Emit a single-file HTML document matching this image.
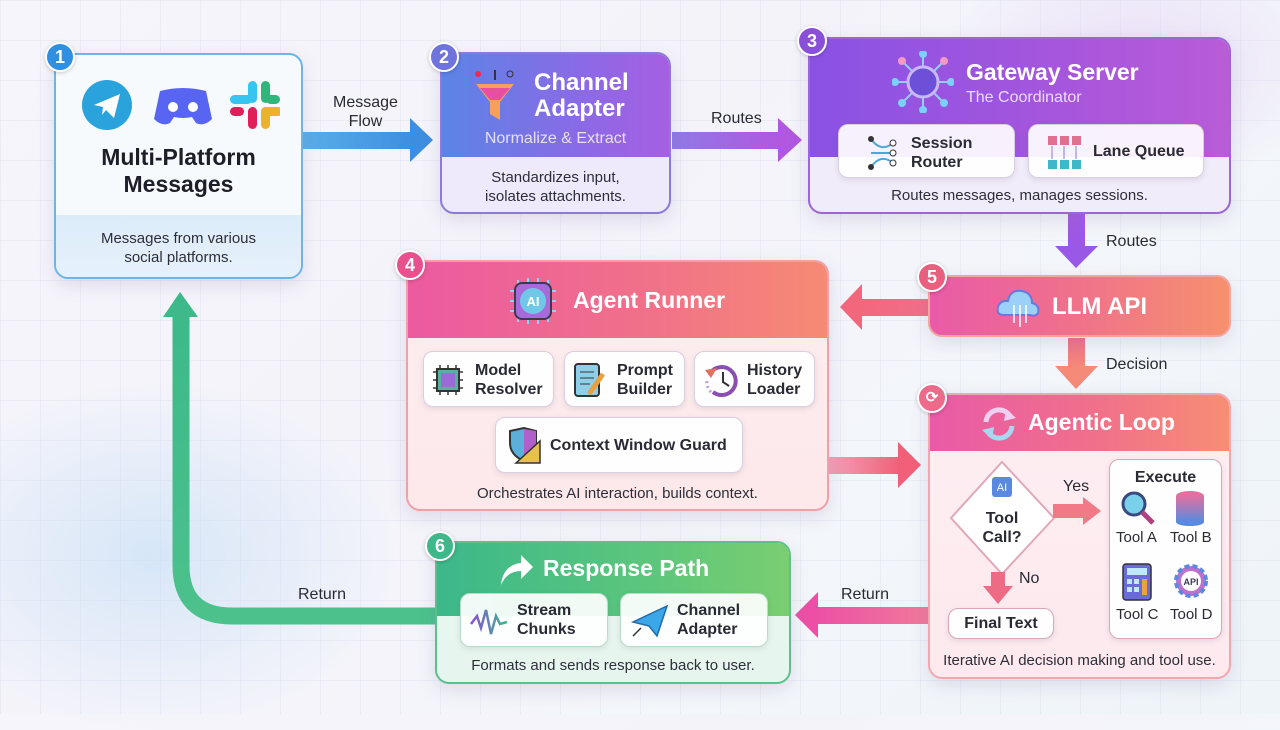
<!DOCTYPE html>
<html><head><meta charset="utf-8">
<style>
*{box-sizing:border-box;margin:0;padding:0}
body{width:1280px;height:714px;overflow:hidden;font-family:"Liberation Sans",sans-serif;position:relative;
background:linear-gradient(135deg,#f6f5fb 0%,#f4f3fa 40%,#f3f6fa 70%,#eef4f8 100%);}
.grid{position:absolute;inset:0;background-image:linear-gradient(rgba(150,160,200,.10) 1px,transparent 1px),linear-gradient(90deg,rgba(150,160,200,.10) 1px,transparent 1px);background-size:40px 40px;}
.glowL{position:absolute;left:-100px;top:380px;width:500px;height:350px;background:radial-gradient(ellipse,rgba(190,220,245,.55),transparent 70%)}
.glowR{position:absolute;right:-60px;top:-60px;width:400px;height:250px;background:radial-gradient(ellipse,rgba(225,200,245,.5),transparent 70%)}
.card{position:absolute;border-radius:14px;border:2px solid;overflow:hidden;box-shadow:0 6px 18px rgba(120,100,160,.18)}
.hd{position:absolute;left:0;right:0;top:0}
.badge{position:absolute;width:30px;height:30px;border-radius:50%;border:2px solid #fff;color:#fff;font-weight:bold;font-size:18px;text-align:center;line-height:26px;z-index:5;box-shadow:0 1px 4px rgba(0,0,0,.2)}
.t{position:absolute;white-space:nowrap}
.sub{position:absolute;background:rgba(255,255,255,.92);border:1.5px solid #d8cfe0;border-radius:10px;box-shadow:0 2px 6px rgba(100,80,120,.15)}
.sub .l{position:absolute;font-size:16px;font-weight:bold;color:#2a2a35;line-height:19px}
.cap{position:absolute;left:0;right:0;text-align:center;font-size:15px;color:#2e2e38}
.lab{position:absolute;font-size:16px;color:#2a2a33;white-space:nowrap;text-align:center;line-height:19px;z-index:6}
</style></head><body>
<div class="grid"></div><div class="glowL"></div><div class="glowR"></div>

<svg width="1280" height="714" style="position:absolute;left:0;top:0">
<defs>
<linearGradient id="ga" x1="0" x2="1"><stop offset="0" stop-color="#5aaee8"/><stop offset="1" stop-color="#3d8ee0"/></linearGradient>
<linearGradient id="gb" x1="0" x2="1"><stop offset="0" stop-color="#8f7ae6"/><stop offset="1" stop-color="#b157e0"/></linearGradient>
<linearGradient id="gc" x1="0" x2="0" y1="0" y2="1"><stop offset="0" stop-color="#a35ae0"/><stop offset="1" stop-color="#9a58e6"/></linearGradient>
<linearGradient id="gd" x1="0" x2="1"><stop offset="0" stop-color="#f2677c"/><stop offset="1" stop-color="#f0708a"/></linearGradient>
<linearGradient id="ge" x1="0" x2="1"><stop offset="0" stop-color="#f2a0b8"/><stop offset="1" stop-color="#f25f78"/></linearGradient>
<linearGradient id="gf" x1="0" x2="0" y1="0" y2="1"><stop offset="0" stop-color="#ee7088"/><stop offset="1" stop-color="#f58a78"/></linearGradient>
<linearGradient id="gg" x1="0" x2="1"><stop offset="0" stop-color="#ec4fa5"/><stop offset="1" stop-color="#f07a9a"/></linearGradient>
<linearGradient id="gh" x1="0" x2="0" y1="1" y2="0"><stop offset="0" stop-color="#4cc18c"/><stop offset="1" stop-color="#3db98a"/></linearGradient>
</defs>
<rect x="303" y="132" width="110" height="17" fill="url(#ga)"/><polygon points="410,118 433,140 410,162" fill="#3d8ee0"/>
<rect x="672" y="132" width="108" height="17" fill="url(#gb)"/><polygon points="778,118 802,140 778,162" fill="#b157e0"/>
<rect x="1068" y="214" width="17" height="34" fill="url(#gc)"/><polygon points="1055,246 1098,246 1076,268" fill="#9a58e6"/>
<rect x="860" y="299" width="70" height="17" fill="url(#gd)"/><polygon points="862,284 840,307 862,330" fill="#f2677c"/>
<rect x="1068" y="338" width="17" height="30" fill="url(#gf)"/><polygon points="1055,366 1098,366 1076,389" fill="#f58a78"/>
<rect x="829" y="457" width="72" height="17" fill="url(#ge)"/><polygon points="898,442 921,465 898,488" fill="#f25f78"/>
<rect x="815" y="607" width="113" height="17" fill="url(#gg)"/><polygon points="818,592 795,615 818,638" fill="#ec4fa5"/>
<path d="M436 616 L232 616 Q181 616 181 565 L181 314" stroke="url(#gh)" stroke-width="17" fill="none"/>
<polygon points="163,317 180,292 198,317" fill="#3db98a"/>
</svg>

<div class="lab" style="left:333px;top:93px">Message<br>Flow</div>
<div class="lab" style="left:711px;top:109px">Routes</div>
<div class="lab" style="left:1106px;top:232px">Routes</div>
<div class="lab" style="left:1106px;top:355px">Decision</div>
<div class="lab" style="left:841px;top:585px">Return</div>
<div class="lab" style="left:298px;top:585px">Return</div>
<div class="lab" style="left:1063px;top:477px">Yes</div>
<div class="lab" style="left:1019px;top:569px">No</div>

<!-- Box 1 -->
<div class="card" style="left:54px;top:53px;width:249px;height:226px;border-color:#6ab6e6;background:#f7fafd">
 <div style="position:absolute;left:0;right:0;top:160px;bottom:0;background:linear-gradient(#dcecf9,#e6f1fb)"></div>
 <svg class="t" style="left:24px;top:22px" width="200" height="56">
  <circle cx="27" cy="28" r="25" fill="#2aa3dc"/><polygon points="14,28 40,17 34,41 26,33 22,38 23,30" fill="#fff"/>
  <path d="M80 14 Q103 8 126 14 L132 42 Q124 50 116 46 L112 40 Q103 42 94 40 L90 46 Q82 50 74 42 Z" fill="#5865f2"/><circle cx="93" cy="30" r="5" fill="#fff"/><circle cx="113" cy="30" r="5" fill="#fff"/>
  <rect x="168" y="4" width="9" height="22" rx="4.5" fill="#36c5f0"/><rect x="150" y="18" width="22" height="9" rx="4.5" fill="#36c5f0"/>
  <rect x="181" y="4" width="9" height="22" rx="4.5" fill="#2eb67d"/><rect x="186" y="18" width="14" height="9" rx="4.5" fill="#2eb67d"/>
  <rect x="168" y="30" width="9" height="22" rx="4.5" fill="#e01e5a"/><rect x="150" y="30" width="14" height="9" rx="4.5" fill="#e01e5a"/>
  <rect x="181" y="30" width="9" height="22" rx="4.5" fill="#ecb22e"/><rect x="181" y="30" width="22" height="9" rx="4.5" fill="#ecb22e"/>
 </svg>
 <div class="cap" style="top:89px;font-size:23px;font-weight:bold;color:#1e1e28;line-height:27px">Multi-Platform<br>Messages</div>
 <div class="cap" style="top:174px;line-height:19px">Messages from various<br>social platforms.</div>
</div>
<div class="badge" style="left:45px;top:42px;background:#2f8fe0">1</div>

<!-- Box 2 -->
<div class="card" style="left:440px;top:52px;width:231px;height:162px;border-color:#8c7ad8;background:#eeeafb">
 <div class="hd" style="height:103px;background:linear-gradient(90deg,#5b84e6,#8a6ae6 60%,#a65fe2)"></div>
 <svg class="t" style="left:30px;top:14px" width="46" height="56"><polygon points="4,16 42,16 28,34 28,52 18,46 18,34" fill="#f7a05a"/><polygon points="8,20 38,20 28,32 18,32" fill="#e84fa0"/><line x1="23" y1="2" x2="23" y2="12" stroke="#333" stroke-width="2"/><circle cx="6" cy="6" r="3" fill="#f25"/><circle cx="38" cy="6" r="3" stroke="#333" fill="none"/></svg>
 <div class="t" style="left:92px;top:16px;font-size:24px;font-weight:bold;color:#fff;line-height:26px">Channel<br>Adapter</div>
 <div class="cap" style="top:76px;color:#e6e0ff;font-size:16px">Normalize &amp; Extract</div>
 <div class="cap" style="top:114px;line-height:19px">Standardizes input,<br>isolates attachments.</div>
</div>
<div class="badge" style="left:429px;top:42px;background:#6f73dc">2</div>

<!-- Box 3 -->
<div class="card" style="left:808px;top:37px;width:423px;height:177px;border-color:#9a66d8;background:#f1ecf9">
 <div class="hd" style="height:118px;background:linear-gradient(90deg,#8a52e4,#a656dc 60%,#b95cd8)"></div>
 <svg class="t" style="left:82px;top:12px" width="62" height="62"><g stroke="#8fd0f5" stroke-width="2"><line x1="31" y1="31" x2="31" y2="3"/><line x1="31" y1="31" x2="31" y2="59"/><line x1="31" y1="31" x2="3" y2="31"/><line x1="31" y1="31" x2="59" y2="31"/><line x1="31" y1="31" x2="10" y2="10"/><line x1="31" y1="31" x2="52" y2="10"/><line x1="31" y1="31" x2="10" y2="52"/><line x1="31" y1="31" x2="52" y2="52"/></g><circle cx="31" cy="31" r="15" fill="#6d4fd8" stroke="#c8b8ff" stroke-width="3"/><g fill="#7cd0ff"><circle cx="31" cy="3" r="4"/><circle cx="31" cy="59" r="4"/><circle cx="3" cy="31" r="4"/><circle cx="59" cy="31" r="4"/><circle cx="10" cy="10" r="4" fill="#f59ac0"/><circle cx="52" cy="10" r="4" fill="#f59ac0"/><circle cx="10" cy="52" r="4"/><circle cx="52" cy="52" r="4"/></g></svg>
 <div class="t" style="left:156px;top:20px;font-size:23px;font-weight:bold;color:#fff">Gateway Server</div>
 <div class="t" style="left:156px;top:50px;font-size:16px;color:#eadcff">The Coordinator</div>
 <div class="sub" style="left:28px;top:85px;width:177px;height:54px">
  <svg class="t" style="left:28px;top:10px" width="30" height="36"><g stroke="#4aa8d8" stroke-width="2" fill="none"><path d="M4 4 Q14 18 26 8"/><path d="M4 18 L26 18"/><path d="M4 32 Q14 18 26 28"/></g><circle cx="4" cy="4" r="3" fill="#333"/><circle cx="4" cy="32" r="3" fill="#333"/><circle cx="26" cy="8" r="3" fill="#fff" stroke="#333"/><circle cx="26" cy="18" r="3" fill="#fff" stroke="#333"/><circle cx="26" cy="28" r="3" fill="#fff" stroke="#333"/></svg>
  <div class="l" style="left:72px;top:9px">Session<br>Router</div></div>
 <div class="sub" style="left:218px;top:85px;width:176px;height:54px">
  <svg class="t" style="left:18px;top:10px" width="36" height="36"><g fill="#e07090"><rect x="1" y="1" width="9" height="9"/><rect x="13" y="1" width="9" height="9"/><rect x="25" y="1" width="9" height="9"/></g><g fill="#3cb8c8"><rect x="1" y="25" width="9" height="9"/><rect x="13" y="25" width="9" height="9"/><rect x="25" y="25" width="9" height="9"/></g><g stroke="#8a7ad8"><line x1="5" y1="11" x2="5" y2="24"/><line x1="17" y1="11" x2="17" y2="24"/><line x1="29" y1="11" x2="29" y2="24"/></g></svg>
  <div class="l" style="left:64px;top:17px">Lane Queue</div></div>
 <div class="cap" style="top:148px">Routes messages, manages sessions.</div>
</div>
<div class="badge" style="left:797px;top:26px;background:#8a4fd8">3</div>

<!-- Box 5 -->
<div class="card" style="left:928px;top:275px;width:303px;height:62px;border-color:#f2a6a0;background:linear-gradient(90deg,#e95aa8,#f0728a 50%,#f6906e)">
 <svg class="t" style="left:64px;top:8px" width="46" height="46"><path d="M10 30 Q2 30 4 22 Q6 15 14 16 Q16 4 28 6 Q38 8 38 18 Q46 20 44 28 Q42 32 36 30 Z" fill="#9bd0f8" stroke="#6a78e0" stroke-width="2"/><g stroke="#fff" stroke-width="1.5"><line x1="20" y1="20" x2="20" y2="38"/><line x1="26" y1="20" x2="26" y2="42"/><line x1="32" y1="20" x2="32" y2="38"/></g></svg>
 <div class="t" style="left:122px;top:16px;font-size:24px;font-weight:bold;color:#fff">LLM API</div>
</div>
<div class="badge" style="left:917px;top:262px;background:#e8607e">5</div>

<!-- Box 4 -->
<div class="card" style="left:406px;top:260px;width:423px;height:251px;border-color:#f0a0a8;background:linear-gradient(180deg,#fdeef0,#fde8ea)">
 <div class="hd" style="height:76px;background:linear-gradient(90deg,#ec5aa0,#f0708a 55%,#f68a74)"></div>
 <svg class="t" style="left:100px;top:14px" width="50" height="50"><g stroke="#8fd0f5" stroke-width="2"><line x1="10" y1="4" x2="10" y2="46"/><line x1="20" y1="2" x2="20" y2="48"/><line x1="30" y1="2" x2="30" y2="48"/><line x1="40" y1="4" x2="40" y2="46"/><line x1="2" y1="15" x2="48" y2="15"/><line x1="2" y1="25" x2="48" y2="25"/><line x1="2" y1="35" x2="48" y2="35"/></g><rect x="7" y="7" width="36" height="36" rx="7" fill="#a86ad8" stroke="#3a3a50" stroke-width="2"/><circle cx="25" cy="25" r="13" fill="#6fc8e8"/><text x="25" y="30" font-size="13" font-family="Liberation Sans" fill="#fff" text-anchor="middle" font-weight="bold">AI</text></svg>
 <div class="t" style="left:165px;top:25px;font-size:23px;font-weight:bold;color:#fff">Agent Runner</div>
 <div class="sub" style="left:15px;top:89px;width:131px;height:56px"><svg class="t" style="left:8px;top:12px" width="32" height="32"><g stroke="#333" stroke-width="1.5"><line x1="8" y1="1" x2="8" y2="31"/><line x1="16" y1="1" x2="16" y2="31"/><line x1="24" y1="1" x2="24" y2="31"/><line x1="1" y1="8" x2="31" y2="8"/><line x1="1" y1="16" x2="31" y2="16"/><line x1="1" y1="24" x2="31" y2="24"/></g><rect x="5" y="5" width="22" height="22" fill="#5ab0a0" stroke="#333" stroke-width="2"/><rect x="9" y="9" width="14" height="14" fill="#9a6ad8"/></svg><div class="l" style="left:51px;top:9px">Model<br>Resolver</div></div>
 <div class="sub" style="left:156px;top:89px;width:121px;height:56px"><svg class="t" style="left:8px;top:10px" width="34" height="36"><rect x="2" y="2" width="24" height="32" rx="3" fill="#8fd0e8" stroke="#333" stroke-width="2"/><g stroke="#333"><line x1="7" y1="10" x2="21" y2="10"/><line x1="7" y1="16" x2="21" y2="16"/><line x1="7" y1="22" x2="17" y2="22"/></g><line x1="30" y1="12" x2="16" y2="32" stroke="#e8a040" stroke-width="5"/></svg><div class="l" style="left:52px;top:9px">Prompt<br>Builder</div></div>
 <div class="sub" style="left:286px;top:89px;width:121px;height:56px"><svg class="t" style="left:8px;top:10px" width="36" height="36"><path d="M8 10 A14 14 0 1 1 10 30" stroke="#8a4fb0" stroke-width="4" fill="none"/><path d="M8 30 A14 14 0 0 1 4 18" stroke="#b8a0e0" stroke-width="3" stroke-dasharray="2 3" fill="none"/><polygon points="2,8 14,6 8,16" fill="#e07060"/><path d="M20 10 L20 20 L26 24" stroke="#333" stroke-width="2" fill="none"/></svg><div class="l" style="left:52px;top:9px">History<br>Loader</div></div>
 <div class="sub" style="left:87px;top:155px;width:248px;height:56px"><svg class="t" style="left:10px;top:9px" width="36" height="38"><path d="M4 4 L18 1 L30 4 L30 16 Q30 28 18 34 Q4 28 4 16 Z" fill="#5ab0d8" stroke="#333" stroke-width="2"/><path d="M18 2 L30 4 L30 16 Q30 28 18 34 Z" fill="#b060c8"/><polygon points="34,14 34,36 10,36" fill="#e8c050" stroke="#333" stroke-width="1.5"/></svg><div class="l" style="left:54px;top:18px">Context Window Guard</div></div>
 <div class="cap" style="top:223px">Orchestrates AI interaction, builds context.</div>
</div>
<div class="badge" style="left:395px;top:250px;background:#e8508e">4</div>

<!-- Agentic Loop -->
<div class="card" style="left:928px;top:393px;width:303px;height:286px;border-color:#f2a6b0;background:linear-gradient(180deg,#fdeef2,#fde9ee)">
 <div class="hd" style="height:56px;background:linear-gradient(90deg,#e95aa8,#f0708a 55%,#f68e74)"></div>
 <svg class="t" style="left:50px;top:11px" width="38" height="36"><path d="M6 16 A13 13 0 0 1 30 10" stroke="#f0d0f0" stroke-width="5" fill="none"/><polygon points="26,3 36,12 24,15" fill="#f0d0f0"/><path d="M32 20 A13 13 0 0 1 8 26" stroke="#a8d8f0" stroke-width="5" fill="none"/><polygon points="12,33 2,24 14,21" fill="#a8d8f0"/></svg>
 <div class="t" style="left:98px;top:14px;font-size:23px;font-weight:bold;color:#fff">Agentic Loop</div>
 <svg class="t" style="left:18px;top:64px" width="110" height="120"><polygon points="54,3 106,59 54,115 3,59" fill="#fff" stroke="#e0a8b8" stroke-width="2"/><rect x="44" y="18" width="20" height="20" rx="3" fill="#5a8ae0"/><text x="54" y="32" font-size="11" font-family="Liberation Sans" fill="#fff" text-anchor="middle">AI</text><text x="54" y="64" font-size="16" font-weight="bold" font-family="Liberation Sans" fill="#2a2a35" text-anchor="middle">Tool</text><text x="54" y="83" font-size="16" font-weight="bold" font-family="Liberation Sans" fill="#2a2a35" text-anchor="middle">Call?</text></svg>
 <div class="sub" style="left:18px;top:213px;width:106px;height:31px;border-color:#d8a8b8"><div class="l" style="left:0;right:0;text-align:center;top:5px">Final Text</div></div>
 <div class="sub" style="left:179px;top:64px;width:113px;height:180px;border-color:#d8a8b8">
  <div class="l" style="left:0;right:0;text-align:center;top:8px">Execute</div>
  <svg class="t" style="left:10px;top:30px" width="36" height="36"><circle cx="14" cy="14" r="11" fill="#7ad0e8" stroke="#3a4a80" stroke-width="3"/><line x1="22" y1="22" x2="33" y2="33" stroke="#b04080" stroke-width="5"/></svg>
  <svg class="t" style="left:64px;top:30px" width="32" height="36"><defs><linearGradient id="dbg" x1="0" x2="0" y1="0" y2="1"><stop offset="0" stop-color="#e070a0"/><stop offset="1" stop-color="#5a8ae0"/></linearGradient></defs><ellipse cx="16" cy="6" rx="14" ry="5" fill="#e070a0"/><rect x="2" y="6" width="28" height="26" fill="url(#dbg)"/><ellipse cx="16" cy="32" rx="14" ry="4" fill="#5a8ae0"/></svg>
  <div class="t" style="left:6px;top:69px;font-size:15px;color:#2a2a33">Tool A</div><div class="t" style="left:60px;top:69px;font-size:15px;color:#2a2a33">Tool B</div>
  <svg class="t" style="left:12px;top:103px" width="30" height="38"><rect x="1" y="1" width="28" height="36" rx="3" fill="#6a6ad8" stroke="#333" stroke-width="1.5"/><rect x="5" y="5" width="20" height="7" fill="#bfe8f8"/><g fill="#bfe8f8"><rect x="5" y="16" width="5" height="5"/><rect x="12" y="16" width="5" height="5"/><rect x="5" y="24" width="5" height="5"/><rect x="12" y="24" width="5" height="5"/></g><rect x="20" y="16" width="5" height="16" fill="#f0a040"/></svg>
  <svg class="t" style="left:63px;top:103px" width="36" height="36"><circle cx="18" cy="18" r="15" fill="#c070d0" stroke="#5a8ae0" stroke-width="4" stroke-dasharray="5 3"/><circle cx="18" cy="18" r="10" fill="#fff"/><text x="18" y="22" font-size="9" font-weight="bold" font-family="Liberation Sans" fill="#3a3a60" text-anchor="middle">API</text></svg>
  <div class="t" style="left:6px;top:146px;font-size:15px;color:#2a2a33">Tool C</div><div class="t" style="left:60px;top:146px;font-size:15px;color:#2a2a33">Tool D</div>
 </div>
 <div class="cap" style="top:257px">Iterative AI decision making and tool use.</div>
</div>
<div class="badge" style="left:917px;top:383px;background:#ec6a8a;font-size:15px">⟳</div>

<!-- yes / no arrows on top -->
<svg width="1280" height="714" style="position:absolute;left:0;top:0;z-index:4;pointer-events:none">
<rect x="1053" y="504" width="32" height="14" fill="#f27a86"/><polygon points="1083,497 1101,511 1083,525" fill="#f27a86"/>
<rect x="991" y="578" width="14" height="10" fill="#ee6b86"/><rect x="991" y="572" width="14" height="16" fill="#ee6b86"/><polygon points="983,586 1013,586 998,604" fill="#ee6b86"/>
</svg>

<!-- Box 6 -->
<div class="card" style="left:435px;top:541px;width:356px;height:143px;border-color:#5cc08a;background:linear-gradient(180deg,#e8f6ee,#e6f6ee)">
 <div class="hd" style="height:73px;background:linear-gradient(90deg,#3cb88a,#5cc67c 60%,#7ace70)"></div>
 <svg class="t" style="left:60px;top:10px" width="38" height="34"><path d="M4 32 Q6 12 24 10 L24 2 L36 14 L24 26 L24 18 Q10 18 4 32 Z" fill="#fff"/></svg>
 <div class="t" style="left:106px;top:12px;font-size:23px;font-weight:bold;color:#fff">Response Path</div>
 <div class="sub" style="left:23px;top:50px;width:148px;height:54px;border-color:#b8dcc8"><svg class="t" style="left:8px;top:12px" width="40" height="30"><defs><linearGradient id="wv" x1="0" x2="1"><stop offset="0" stop-color="#8a4fd8"/><stop offset="1" stop-color="#3cb88a"/></linearGradient></defs><path d="M2 18 L8 10 L12 22 L17 4 L22 28 L27 10 L31 18 L38 16" stroke="url(#wv)" stroke-width="2.5" fill="none"/></svg><div class="l" style="left:56px;top:7px">Stream<br>Chunks</div></div>
 <div class="sub" style="left:183px;top:50px;width:148px;height:54px;border-color:#b8dcc8"><svg class="t" style="left:10px;top:10px" width="38" height="34"><polygon points="2,18 36,2 26,32 18,22" fill="#3aa8e8" stroke="#1f6aa8" stroke-width="1.5"/><line x1="2" y1="32" x2="10" y2="24" stroke="#333" stroke-width="1.5"/></svg><div class="l" style="left:56px;top:7px">Channel<br>Adapter</div></div>
 <div class="cap" style="top:114px">Formats and sends response back to user.</div>
</div>
<div class="badge" style="left:425px;top:531px;background:#3cb88a">6</div>
</body></html>
